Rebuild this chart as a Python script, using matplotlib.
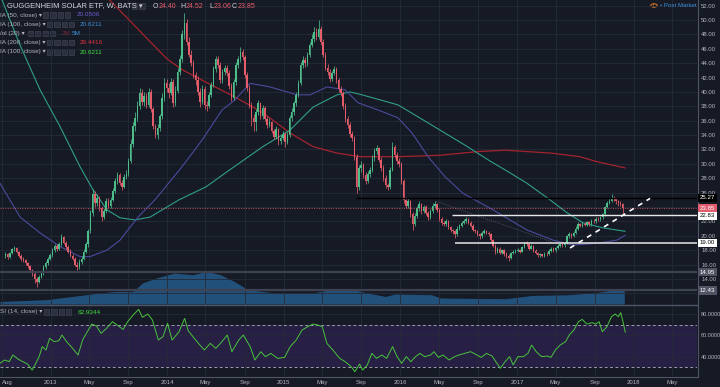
import numpy as np
import pandas as pd
import matplotlib
matplotlib.use("Agg")
import matplotlib.pyplot as plt
import matplotlib.transforms as mtrans
from matplotlib.patches import Rectangle, Circle

# ---- values ----
# weekly candles (Guggenheim Solar ETF, W, BATS), Aug 2012 .. Nov 2017
# each week opens at the previous close
first_open = 17.2
last_week = "2017-11-27"
closes = [
    17.4, 17.0, 17.6, 18.1, 18.3, 17.8, 17.2, 16.8,
    16.6, 16.2, 15.8, 15.2, 14.7, 14.0, 13.6, 14.3, 14.8, 15.6, 16.2, 16.8, 17.3,
    18.0, 18.6, 18.2, 18.8, 19.8, 19.0, 18.4, 17.8, 17.2, 16.8, 16.0, 15.6, 16.4,
    16.8, 17.8, 18.8, 20.6, 23.2, 25.8, 24.6, 25.2, 23.8, 22.6, 23.4, 24.8, 24.2,
    25.0, 26.2, 27.6, 28.4, 27.4, 26.8, 28.2, 28.6, 30.4, 32.8, 35.2, 36.4, 38.0,
    39.8, 38.6, 39.4, 38.2, 40.0, 37.6, 35.2, 34.0, 35.0, 36.6, 39.2, 41.2, 40.6,
    39.8, 41.4, 38.4, 40.2, 42.8, 44.6, 48.0, 49.6, 47.0, 45.2, 44.0, 42.4, 41.6,
    40.0, 38.6, 40.4, 38.2, 38.0, 39.6, 41.0, 43.2, 44.6, 43.8, 41.6, 42.8, 43.4,
    42.6, 40.8, 39.2, 41.4, 43.8, 44.6, 45.6, 44.8, 42.4, 40.6, 38.2, 36.4, 35.8,
    37.2, 38.4, 36.6, 37.8, 36.2, 35.4, 35.8, 34.6, 33.8, 34.8, 33.2, 33.6, 34.2,
    33.0, 34.0, 36.4, 37.2, 38.4, 39.6, 41.2, 43.8, 44.4, 44.0, 45.2, 46.6, 47.4,
    48.4, 47.6, 48.8, 47.0, 45.2, 43.4, 42.8, 41.8, 42.6, 43.2, 41.6, 40.4, 39.8,
    38.0, 36.2, 35.4, 34.2, 33.6, 31.0, 26.8, 29.4, 29.8, 28.4, 27.6, 28.6, 29.2,
    30.8, 31.8, 32.2, 30.6, 29.4, 28.0, 27.0, 26.8, 29.2, 32.4, 31.2, 30.4, 30.0,
    27.6, 25.0, 24.2, 24.8, 23.0, 21.6, 22.8, 23.8, 24.4, 23.4, 24.0, 23.2, 22.6,
    23.4, 24.2, 24.4, 23.6, 22.4, 21.8, 21.6, 22.0, 21.2, 20.8, 20.6, 20.2, 21.0,
    21.4, 21.8, 22.0, 22.4, 21.8, 21.4, 20.8, 20.6, 20.2, 19.9, 20.4, 20.6, 20.4,
    20.2, 19.4, 18.6, 17.8, 18.2, 17.6, 18.0, 17.4, 17.2, 16.9, 17.6, 17.8, 17.9,
    18.0, 17.8, 18.4, 19.0, 18.8, 18.2, 18.6, 17.9, 17.6, 17.3, 17.4, 17.2, 17.5,
    17.4, 17.9, 18.2, 18.0, 18.3, 18.6, 18.8, 18.7, 19.0, 19.9, 20.2, 19.9, 20.4,
    21.0, 21.6, 21.4, 21.7, 21.5, 21.9, 21.6, 22.1, 22.0, 22.4, 22.3, 22.6, 23.0,
    24.0, 24.6, 24.9, 25.3, 25.1, 24.8, 24.5, 24.40, 23.85,
]
highs = [
    17.7, 17.6, 17.8, 18.3, 18.6, 18.4, 17.9, 17.4,
    17.0, 16.8, 16.4, 16.0, 15.4, 14.9, 14.2, 14.6, 15.1, 15.9, 16.5, 17.1, 17.6,
    18.3, 18.9, 18.9, 19.2, 20.3, 20.0, 19.3, 18.7, 18.1, 17.5, 17.0, 16.3, 16.7,
    17.2, 18.1, 19.2, 21.0, 23.6, 26.5, 26.2, 25.8, 25.6, 24.2, 23.8, 25.2, 25.3,
    25.4, 26.6, 28.0, 28.9, 28.7, 27.8, 28.6, 29.2, 30.8, 33.4, 35.8, 37.2, 38.8,
    40.6, 40.4, 40.0, 39.9, 40.6, 40.4, 37.9, 35.6, 35.6, 37.0, 39.8, 42.0, 41.8,
    41.2, 42.0, 41.8, 40.8, 43.4, 45.2, 48.6, 51.0, 50.2, 47.6, 45.8, 44.4, 42.8,
    42.2, 40.6, 40.9, 40.8, 38.8, 40.0, 41.4, 43.6, 45.0, 45.0, 44.2, 43.2, 43.8,
    43.8, 43.0, 41.2, 41.8, 44.2, 45.0, 46.2, 46.0, 45.2, 42.8, 41.0, 38.6, 36.9,
    37.6, 38.9, 38.6, 38.2, 38.1, 36.6, 36.4, 36.0, 34.9, 35.2, 35.0, 34.0, 34.6,
    34.5, 34.4, 36.8, 37.8, 38.8, 40.0, 41.6, 44.2, 45.0, 44.8, 45.6, 47.0, 48.0,
    49.0, 48.9, 50.0, 49.2, 47.4, 45.6, 43.9, 43.2, 42.9, 43.6, 43.5, 41.9, 40.8,
    40.2, 38.4, 36.6, 35.8, 34.6, 33.9, 31.4, 29.8, 30.4, 30.1, 28.8, 29.0, 29.6,
    31.2, 32.2, 32.6, 32.4, 30.9, 29.8, 28.4, 27.4, 29.6, 33.0, 32.6, 31.6, 30.8,
    30.2, 27.9, 25.4, 25.2, 25.0, 23.3, 23.1, 24.2, 24.8, 24.6, 24.3, 24.3, 23.5,
    23.7, 24.5, 24.8, 24.6, 23.8, 22.6, 22.1, 22.3, 22.2, 21.4, 21.0, 20.8, 21.3,
    21.7, 22.0, 22.3, 22.6, 22.5, 22.0, 21.6, 21.0, 20.8, 20.4, 20.6, 20.9, 20.8,
    20.6, 20.4, 19.6, 18.8, 18.5, 18.4, 18.2, 18.2, 17.7, 17.4, 17.8, 18.0, 18.2,
    18.3, 18.2, 18.6, 19.2, 19.3, 18.9, 18.8, 18.7, 18.1, 17.8, 17.6, 17.5, 17.7,
    17.7, 18.1, 18.4, 18.4, 18.5, 18.8, 19.0, 19.0, 19.2, 20.1, 20.5, 20.4, 20.6,
    21.3, 21.9, 21.8, 21.9, 21.9, 22.1, 22.1, 22.3, 22.3, 22.6, 22.6, 22.8, 23.2,
    24.2, 24.8, 25.2, 25.8, 25.5, 25.3, 25.0, 24.8, 24.52,
]
lows = [
    16.9, 16.8, 16.9, 17.5, 17.9, 17.6, 17.0, 16.5,
    16.3, 15.9, 15.5, 14.9, 14.4, 13.5, 12.9, 13.4, 14.1, 14.6, 15.4, 16.0, 16.6,
    17.1, 17.8, 17.9, 18.0, 18.6, 18.8, 18.2, 17.6, 17.0, 16.6, 15.8, 15.3, 15.4,
    16.1, 16.6, 17.6, 18.5, 20.4, 22.8, 24.0, 24.1, 23.5, 22.0, 22.3, 23.2, 23.8,
    23.9, 24.8, 26.0, 27.2, 27.1, 26.3, 26.6, 27.9, 28.3, 30.1, 32.4, 34.6, 36.0,
    37.6, 38.2, 38.0, 37.8, 37.9, 37.2, 34.9, 33.6, 33.5, 34.6, 36.2, 38.8, 40.0,
    39.2, 39.6, 37.9, 38.1, 39.9, 42.4, 44.2, 47.4, 46.6, 44.8, 43.6, 42.0, 41.0,
    39.6, 37.9, 38.3, 37.6, 37.4, 37.8, 39.3, 40.7, 42.8, 43.4, 41.2, 41.3, 42.4,
    42.2, 40.4, 38.8, 38.9, 41.0, 43.4, 44.2, 44.4, 42.0, 40.2, 37.8, 35.2, 34.6,
    34.6, 36.8, 36.2, 36.3, 35.9, 35.0, 35.1, 34.3, 33.4, 33.5, 32.6, 32.8, 33.3,
    32.4, 32.7, 33.8, 36.0, 36.8, 38.0, 39.3, 40.9, 43.4, 43.5, 43.6, 44.8, 46.2,
    47.0, 47.2, 47.3, 46.6, 44.8, 43.0, 42.4, 41.4, 41.5, 42.3, 41.2, 40.0, 39.4,
    37.6, 35.8, 35.0, 33.8, 33.2, 30.6, 25.9, 26.4, 28.9, 28.0, 27.2, 27.3, 28.2,
    28.9, 30.4, 31.4, 30.2, 29.0, 27.6, 26.6, 26.4, 26.5, 29.0, 30.8, 30.0, 29.6,
    27.2, 24.6, 23.8, 23.9, 22.6, 20.8, 21.3, 22.5, 23.5, 23.0, 23.1, 22.9, 22.2,
    22.3, 23.1, 23.9, 23.3, 22.1, 21.5, 21.3, 21.4, 20.9, 20.5, 20.3, 19.7, 20.0,
    20.8, 21.2, 21.6, 21.8, 21.6, 21.2, 20.6, 20.4, 19.9, 19.6, 19.7, 20.2, 20.2,
    20.0, 19.2, 18.4, 17.5, 17.6, 17.4, 17.4, 17.2, 16.9, 16.5, 16.7, 17.4, 17.6,
    17.7, 17.6, 17.7, 18.3, 18.6, 18.0, 18.1, 17.7, 17.4, 17.1, 17.1, 17.0, 17.1,
    17.2, 17.3, 17.8, 17.8, 17.8, 18.2, 18.4, 18.5, 18.5, 18.9, 19.7, 19.7, 19.8,
    20.2, 20.8, 21.2, 21.2, 21.3, 21.3, 21.4, 21.4, 21.8, 21.8, 22.0, 22.1, 22.4,
    22.8, 23.8, 24.4, 24.7, 24.8, 24.4, 24.2, 24.1, 23.06,
]

# moving averages, sampled along the drawn curves (decimal year, value)
ma50_t = [2012.567, 2012.739, 2012.910, 2013.081, 2013.253, 2013.338, 2013.484, 2013.596,
          2013.750, 2013.895, 2014.127, 2014.298, 2014.470, 2014.581, 2014.710, 2014.881,
          2015.113, 2015.224, 2015.369, 2015.524, 2015.635, 2015.806, 2015.978, 2016.098,
          2016.235, 2016.381, 2016.535, 2016.792, 2017.083, 2017.306, 2017.478, 2017.709,
          2017.854, 2017.923]
ma50_v = [27.3, 22.6, 20.4, 18.5, 17.1, 17.1, 18.0, 19.4, 22.6, 25.0, 29.6, 33.3, 37.5, 38.9,
          41.2, 40.7, 39.6, 39.6, 40.7, 40.3, 38.5, 37.5, 36.4, 34.3, 31.0, 28.2, 25.9, 23.6,
          20.8, 19.4, 18.7, 19.0, 19.4, 20.05]
ma100_t = [2012.567, 2012.739, 2012.910, 2013.081, 2013.253, 2013.364, 2013.484, 2013.596,
           2013.724, 2013.853, 2014.101, 2014.332, 2014.538, 2014.820, 2015.052, 2015.250,
           2015.455, 2015.567, 2015.670, 2015.978, 2016.235, 2016.552, 2016.766, 2016.912,
           2017.083, 2017.280, 2017.426, 2017.563, 2017.734, 2017.923]
ma100_v = [53.5, 46.5, 40.3, 35.2, 29.6, 26.4, 23.6, 22.5, 22.2, 22.6, 25.0, 26.8, 29.2, 32.4,
           34.7, 37.9, 39.6, 40.0, 39.6, 38.2, 35.7, 32.6, 30.4, 29.0, 27.3, 25.0, 23.2, 21.8,
           21.1, 20.62]
ma200_t = [2013.467, 2013.553, 2013.681, 2013.853, 2013.998, 2014.127, 2014.350, 2014.581,
           2014.821, 2015.052, 2015.249, 2015.455, 2015.652, 2015.995, 2016.338, 2016.655,
           2016.895, 2017.289, 2017.537, 2017.683, 2017.923]
ma200_v = [53.4, 52.0, 49.9, 47.0, 44.6, 43.1, 41.2, 39.3, 37.1, 34.3, 32.4, 31.5, 31.0, 31.0,
           31.2, 31.7, 31.9, 31.5, 31.0, 30.3, 29.44]

# volume moving average (20), millions
vol_t = [2012.567, 2012.961, 2013.354, 2013.551, 2013.708, 2013.787, 2013.905, 2014.062,
         2014.220, 2014.338, 2014.456, 2014.574, 2014.692, 2014.928, 2015.242, 2015.400,
         2015.596, 2015.714, 2015.872, 2015.950, 2016.265, 2016.344, 2016.895, 2017.131,
         2017.445, 2017.681, 2017.839, 2017.917]
vol_v = [0.26, 0.43, 1.0, 1.26, 1.26, 2.1, 2.6, 3.1, 2.93, 3.26, 2.93, 2.26, 1.43, 1.1, 1.1,
         1.43, 1.43, 1.1, 0.76, 1.0, 0.93, 0.6, 0.53, 0.86, 0.93, 1.16, 1.43, 1.43]

# RSI (14, close)
rsi_t = [2012.567, 2012.607, 2012.646, 2012.677, 2012.725, 2012.764, 2012.803, 2012.843, 2012.874, 2012.902,
         2012.929, 2012.961, 2012.992, 2013.031, 2013.071, 2013.098, 2013.138, 2013.177, 2013.236, 2013.275,
         2013.307, 2013.354, 2013.393, 2013.433, 2013.480, 2013.531, 2013.582, 2013.622, 2013.661, 2013.708,
         2013.755, 2013.787, 2013.834, 2013.873, 2013.924, 2013.964, 2014.003, 2014.042, 2014.101, 2014.149,
         2014.180, 2014.220, 2014.267, 2014.318, 2014.369, 2014.416, 2014.456, 2014.515, 2014.554, 2014.613,
         2014.652, 2014.711, 2014.751, 2014.802, 2014.841, 2014.888, 2014.947, 2015.006, 2015.054, 2015.105,
         2015.156, 2015.203, 2015.250, 2015.290, 2015.329, 2015.368, 2015.419, 2015.478, 2015.526, 2015.577,
         2015.608, 2015.648, 2015.675, 2015.714, 2015.754, 2015.793, 2015.840, 2015.880, 2015.931, 2015.970,
         2016.009, 2016.049, 2016.088, 2016.127, 2016.167, 2016.206, 2016.257, 2016.285, 2016.324, 2016.364,
         2016.415, 2016.462, 2016.501, 2016.548, 2016.600, 2016.639, 2016.690, 2016.737, 2016.784, 2016.816,
         2016.855, 2016.895, 2016.934, 2016.965, 2017.005, 2017.052, 2017.091, 2017.123, 2017.162, 2017.209,
         2017.256, 2017.288, 2017.327, 2017.367, 2017.414, 2017.445, 2017.485, 2017.524, 2017.556, 2017.595,
         2017.642, 2017.673, 2017.701, 2017.729, 2017.768, 2017.807, 2017.839, 2017.866, 2017.886, 2017.909,
         2017.925]
rsi_v = [33.8, 36.9, 35.3, 41.6, 37.5, 35.3, 33.1, 27.5, 33.8, 40.0,
         49.4, 46.3, 57.2, 54.1, 55.0, 60.3, 54.1, 49.4, 41.6, 55.6,
         61.9, 70.6, 68.8, 61.9, 66.6, 72.8, 68.8, 65.6, 72.8, 79.1,
         84.4, 76.9, 80.0, 74.4, 55.6, 58.8, 71.3, 55.6, 63.4, 75.9,
         64.4, 58.8, 52.5, 46.3, 52.5, 47.8, 52.5, 60.3, 44.7, 55.6,
         60.3, 49.4, 36.9, 44.7, 40.0, 43.1, 38.4, 39.4, 49.4, 55.6,
         65.0, 68.1, 70.6, 69.7, 68.1, 52.5, 46.3, 38.4, 35.3, 30.6,
         25.9, 33.1, 27.5, 32.2, 43.1, 38.4, 41.6, 38.4, 49.4, 40.0,
         33.8, 40.0, 35.3, 40.0, 43.1, 40.0, 41.6, 44.7, 39.4, 41.6,
         36.9, 40.0, 41.6, 43.1, 44.7, 42.5, 39.4, 43.1, 40.6, 35.3,
         29.1, 35.3, 40.0, 32.2, 40.0, 40.0, 43.1, 50.9, 44.7, 40.0,
         40.6, 39.4, 46.3, 50.9, 54.1, 60.3, 65.0, 72.8, 75.0, 70.6,
         71.9, 70.6, 72.8, 63.4, 68.1, 77.5, 80.0, 77.5, 81.3, 71.3,
         62.93]

# drawn levels: value, start (decimal year, None = whole chart)
level_vals = [25.27, 22.83, 19.00, 14.95, 12.43]
level_from = [2015.618, 2016.440, 2016.466, None, None]
last_close = 23.85
trend_t = [2017.452, 2018.138]
trend_v = [18.3, 25.2]
fade_t = [2016.303, 2017.289]
fade_v = [24.8, 19.2]
ohlc_keys = ["O", "H", "L", "C"]
ohlc_vals = ["24.40", "24.52", "23.06", "23.85"]

# ---- style ----
BG = "#161a25"
GRID = "#252a37"
TXT = "#b2b5be"
UP = "#4dbd8a"
DOWN = "#e55d6b"
W, H = 720, 387
FONT = ["Liberation Sans", "DejaVu Sans"]


def yd(y):
    return pd.Timestamp("2013-01-01") + pd.to_timedelta((np.asarray(y, dtype=float) - 2013) * 365.25, unit="D")


fig = plt.figure(figsize=(W / 100, H / 100), dpi=100, facecolor=BG)
ax = fig.add_axes([0, 1 - 304 / H, 697 / W, 304 / H])
ax_rsi = fig.add_axes([0, 1 - 376 / H, 697 / W, 72 / H])
ax_vol = ax.twinx()
ax.set_zorder(2)
ax_vol.set_zorder(1)
ax.patch.set_visible(False)
ax_vol.set_facecolor(BG)
ax_rsi.set_facecolor(BG)

x0, x1 = yd(2012.567), yd(2018.540)

# x ticks: Jan (year) / May / Sep
tick_d, tick_l = [pd.Timestamp("2012-08-01")], ["Aug"]
for yr in range(2013, 2019):
    for m, lab in [(1, str(yr)), (5, "May"), (9, "Sep")]:
        d = pd.Timestamp(year=yr, month=m, day=1)
        if d <= x1:
            tick_d.append(d)
            tick_l.append(lab)

for a in (ax, ax_rsi, ax_vol):
    a.set_xlim(x0, x1)
    for s in a.spines.values():
        s.set_visible(False)

# ---- price panel ----
ax.set_ylim(10.51, 52.79)
ax.yaxis.tick_right()
ax.set_yticks(np.arange(12, 53, 2))
ax.set_yticklabels([f"{v:.2f}" for v in np.arange(12, 53, 2)])
ax.tick_params(axis="y", length=0, pad=3, labelsize=4.3, labelcolor=TXT)
ax.set_xticks(tick_d)
ax.tick_params(axis="x", length=0, labelbottom=False)
ax.grid(True, color=GRID, lw=0.6)
ax.set_axisbelow(True)
for lab in ax.get_yticklabels():
    lab.set_family(FONT)

# volume average area
ax_vol.set_ylim(0, 30.4)
ax_vol.set_yticks([])
ax_vol.set_xticks(tick_d)
ax_vol.tick_params(axis="x", length=0, labelbottom=False)
ax_vol.grid(True, axis="x", color=GRID, lw=0.6)
ax_vol.fill_between(yd(vol_t), 0, vol_v, color="#21507a", lw=0)

# candles
dates = pd.date_range(end=last_week, periods=len(closes), freq="7D")
c = np.array(closes)
o = np.r_[first_open, c[:-1]]
colors = np.where(c >= o, UP, DOWN)
ax.vlines(dates, lows, highs, colors=colors, lw=0.55, zorder=3)
ax.bar(dates, np.maximum(np.abs(c - o), 0.08), bottom=np.minimum(o, c), width=4.6,
       color=colors, lw=0, zorder=3)

# moving averages
ax.plot(yd(ma200_t), ma200_v, color="#a3242e", lw=0.9, zorder=2.5)
ax.plot(yd(ma100_t), ma100_v, color="#2f9e8a", lw=0.8, zorder=2.5)
ax.plot(yd(ma50_t), ma50_v, color="#4b4a9c", lw=0.8, zorder=2.5)

# levels and drawings
blend = mtrans.blended_transform_factory(ax.transAxes, ax.transData)
lvl_style = [("#000000", 1.0), ("#e8e8e8", 1.0), ("#e8e8e8", 1.1), ("#3d4150", 1.6), ("#3d4150", 1.6)]
box_style = [("#000000", "#ffffff"), ("#ffffff", "#000000"), ("#ffffff", "#000000"),
             ("#505464", "#ffffff"), ("#505464", "#ffffff")]
for v, start, (lc, lw), (fc, tc) in zip(level_vals, level_from, lvl_style, box_style):
    xs = x0 if start is None else yd(start)
    ax.plot([xs, x1], [v, v], color=lc, lw=lw, zorder=4, solid_capstyle="butt")
    ax.text(1.004, v, f"{v:.2f}", transform=blend, ha="left", va="center", fontsize=4.4,
            color=tc, family=FONT, clip_on=False, zorder=10,
            bbox=dict(boxstyle="square,pad=0.3", fc=fc, ec="none"))
ax.axhline(last_close, color=DOWN, lw=0.7, ls=(0, (1, 1.5)), alpha=0.8, zorder=4)
ax.text(1.004, last_close, f"{last_close:.2f}", transform=blend, ha="left", va="center",
        fontsize=4.4, color="#ffffff", family=FONT, clip_on=False, zorder=10,
        bbox=dict(boxstyle="square,pad=0.3", fc="#e25c6e", ec="none"))
ax.plot(yd(trend_t), trend_v, color="#ffffff", lw=1.2, ls=(0, (3, 3)), zorder=5)
ax.plot(yd(fade_t), fade_v, color="#5d6170", lw=0.6, ls=(0, (1, 1.5)), zorder=2)

# ---- RSI panel ----
ax_rsi.set_ylim(21.9, 89.4)
ax_rsi.yaxis.tick_right()
ax_rsi.set_yticks([40, 60, 80])
ax_rsi.set_yticklabels(["40.0000", "60.0000", "80.0000"])
ax_rsi.tick_params(axis="y", length=0, pad=3, labelsize=4.0, labelcolor=TXT)
ax_rsi.set_xticks(tick_d)
ax_rsi.set_xticklabels(tick_l)
ax_rsi.tick_params(axis="x", length=0, pad=3, labelsize=4.3, labelcolor=TXT)
for lab in ax_rsi.get_xticklabels() + ax_rsi.get_yticklabels():
    lab.set_family(FONT)
ax_rsi.get_xticklabels()[0].set_horizontalalignment("left")
ax_rsi.grid(True, color=GRID, lw=0.6)
ax_rsi.set_axisbelow(True)
ax_rsi.axhspan(30, 70, color="#281f45", lw=0, zorder=0.5)
for lv in (70, 30):
    ax_rsi.axhline(lv, color="#9a9cab", lw=0.7, ls=(0, (3, 2.5)), zorder=1)
ax_rsi.plot(yd(rsi_t), rsi_v, color="#47c43b", lw=0.7, zorder=3)

# panel borders
fig.add_artist(plt.Line2D([0, 697 / W], [1 - 304.5 / H] * 2, color="#4f5466", lw=1.0))
fig.add_artist(plt.Line2D([0, 697 / W], [1 - 376.5 / H] * 2, color="#4f5466", lw=0.8))
fig.add_artist(plt.Line2D([697.5 / W] * 2, [1 - 376.5 / H, 1], color="#4f5466", lw=0.8))


# ---- header / legend texts ----
def ftext(px, py, s, color=TXT, size=4.6, **kw):
    return fig.text(px / W, 1 - py / H, s, color=color, fontsize=size, family=FONT,
                    ha="left", va="center", **kw)


def icons(px, py, n):
    for i in range(n):
        fig.add_artist(Rectangle(((px + i * 7.3) / W, 1 - (py + 2.6) / H), 5.2 / W, 5.2 / H,
                                 transform=fig.transFigure, fc="#2c303e", ec="#454a5a", lw=0.4))


ftext(7, 6, "GUGGENHEIM SOLAR ETF, W, BATS \u25be", color="#d1d4dc", size=5.4)
icons(132, 6, 2)
for px, k, v in zip([153, 180, 209, 232], ohlc_keys, ohlc_vals):
    t = ftext(px, 6, k, color="#d1d4dc", size=5.0)
    ax.annotate(v, xy=(1, 0.5), xycoords=t, xytext=(0.3, 0), textcoords="offset points",
                ha="left", va="center", color=DOWN, fontsize=5.0, family=FONT,
                annotation_clip=False)

rows = [
    (15, "IA (50, close) \u25be", 43, [(77, "20.0506", "#6b5fd0")]),
    (24.3, "IA (100, close) \u25be", 47, [(80, "20.6211", "#3b8fd6")]),
    (33.3, "/ol (20) \u25be", 28, [(62, "2M", "#6e2a36"), (72, "5M", "#3b8fd6")]),
    (42.7, "IA (200, close) \u25be", 47, [(80, "29.4416", "#e0303e")]),
    (52, "IA (100, close) \u25be", 47, [(80, "20.6211", "#3ee03e")]),
]
for py, name, ix, vals in rows:
    ftext(0, py, name)
    icons(ix, py, 4)
    for px, s, col in vals:
        ftext(px, py, s, color=col)

ftext(0, 312, "SI (14, close) \u25be")
icons(44, 312, 4)
ftext(78, 312, "62.9344", color="#3ee03e")

fig.add_artist(Circle((654 / W, 1 - 5.5 / H), 3.2 / W, transform=fig.transFigure,
                      fc="none", ec="#e07b2a", lw=0.7))
ftext(652.6, 5.5, "!", color="#e07b2a", size=4.0)
ftext(660, 5.5, "\u2022 Post Market", color="#3b8fd6", size=4.4)

fig.savefig("out.png", dpi=100, facecolor=BG)
